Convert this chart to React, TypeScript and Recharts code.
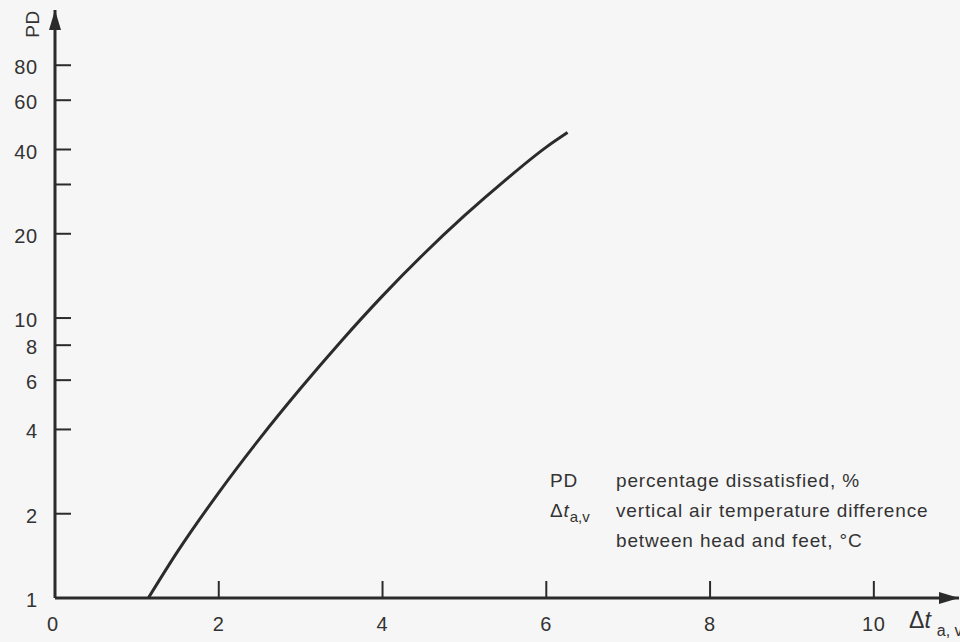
import React from 'react';
import { LineChart, Line, XAxis, YAxis } from 'recharts';

const dtValues = [1.14, 1.5, 2.0, 2.5, 3.0, 3.5, 4.0, 4.5, 5.0, 5.5, 6.0, 6.26];
const pdValues = [1.0, 1.47, 2.38, 3.71, 5.61, 8.3, 12.0, 16.9, 23.2, 31.1, 40.8, 46.0];
const xTicks = [0, 2, 4, 6, 8, 10];
const yTicks = [1, 2, 4, 6, 8, 10, 20, 30, 40, 60, 80];
const yUnlabeled = [30];

const data = dtValues.map((dt, i) => ({ dt, pd: pdValues[i] }));

const INK = '#2b2b2b';
const TXT = '#333';
const FONT = '"Liberation Sans", Arial, Helvetica, sans-serif';

const XTick = (props: any) => {
  const { x, y, payload } = props;
  const v = payload.value;
  return (
    <g>
      {v !== 0 && <line x1={x} y1={y} x2={x} y2={y - 17} stroke={INK} strokeWidth={2} />}
      <text x={v === 0 ? x - 2 : x} y={y + 26} textAnchor="middle" dominantBaseline="central" fontSize={20} letterSpacing={0.8} fill={TXT} fontFamily={FONT}>
        {v}
      </text>
    </g>
  );
};

const YTick = (props: any) => {
  const { x, y, payload } = props;
  const v = payload.value;
  return (
    <g>
      {v !== 1 && <line x1={x} y1={y} x2={x + 16} y2={y} stroke={INK} strokeWidth={2} />}
      {!yUnlabeled.includes(v) && (
        <text x={x - 17} y={y + 2} textAnchor="end" dominantBaseline="central" fontSize={20} letterSpacing={0.8} fill={TXT} fontFamily={FONT}>
          {v}
        </text>
      )}
    </g>
  );
};

const XLabel = (props: any) => {
  const vb = props.viewBox || {};
  return (
    <text x={vb.x + vb.width - 50} y={vb.y + 30} fill={TXT} fontFamily={FONT}>
      <tspan fontSize={23}>Δ</tspan>
      <tspan fontSize={23} fontStyle="italic">t</tspan>
      <tspan fontSize={16} dx={6} dy={8}>a, v</tspan>
    </text>
  );
};

const YLabel = (props: any) => {
  const vb = props.viewBox || {};
  const cx = vb.x + 32;
  const cy = vb.y + 14;
  return (
    <text x={cx} y={cy} transform={`rotate(-90 ${cx} ${cy})`} textAnchor="middle" dominantBaseline="central" fontSize={19} letterSpacing={0.6} fill={TXT} fontFamily={FONT}>
      PD
    </text>
  );
};

const noteRow: React.CSSProperties = { display: 'flex', height: 30, alignItems: 'center' };
const noteKey: React.CSSProperties = { width: 66 };

const Note = () => (
  <div
    style={{
      position: 'absolute',
      left: 550,
      top: 466,
      width: 410,
      fontFamily: FONT,
      fontSize: 19,
      letterSpacing: '0.85px',
      color: TXT,
      lineHeight: '30px',
    }}
  >
    <div style={noteRow}>
      <span style={noteKey}>PD</span>
      <span>percentage dissatisfied, %</span>
    </div>
    <div style={noteRow}>
      <span style={noteKey}>
        Δ<i>t</i>
        <span style={{ fontSize: 15, position: 'relative', top: 5, letterSpacing: 0 }}>a,v</span>
      </span>
      <span>vertical air temperature difference</span>
    </div>
    <div style={noteRow}>
      <span style={noteKey}></span>
      <span>between head and feet, °C</span>
    </div>
  </div>
);

export default function App() {
  return (
    <div style={{ position: 'absolute', left: 0, top: 0, width: 960, height: 642, background: '#f6f6f6', overflow: 'hidden' }}>
      <svg width={0} height={0} style={{ position: 'absolute' }}>
        <defs>
          <marker id="arrowHead" viewBox="0 0 20 12" refX={20} refY={6} markerWidth={20} markerHeight={12} markerUnits="userSpaceOnUse" orient="auto-start-reverse">
            <path d="M0,0 L20,6 L0,12 z" fill={INK} />
          </marker>
        </defs>
      </svg>
      <LineChart width={960} height={642} data={data} margin={{ top: 10, right: 1, bottom: 0, left: 0 }}>
        <XAxis
          dataKey="dt"
          type="number"
          domain={[0, 11.04]}
          ticks={xTicks}
          interval={0}
          allowDataOverflow
          height={44}
          tickLine={false}
          tickSize={0}
          tickMargin={0}
          tick={<XTick />}
          axisLine={{ stroke: INK, strokeWidth: 3, markerEnd: 'url(#arrowHead)' }}
          label={<XLabel />}
        />
        <YAxis
          dataKey="pd"
          scale="log"
          type="number"
          domain={[1, 126]}
          ticks={yTicks}
          interval={0}
          allowDataOverflow
          width={55}
          tickLine={false}
          tickSize={0}
          tickMargin={0}
          tick={<YTick />}
          axisLine={{ stroke: INK, strokeWidth: 3, markerStart: 'url(#arrowHead)' }}
          label={<YLabel />}
        />
        <Line
          type="monotone"
          dataKey="pd"
          stroke={INK}
          strokeWidth={3}
          dot={false}
          isAnimationActive={false}
        />
      </LineChart>
      <Note />
    </div>
  );
}
